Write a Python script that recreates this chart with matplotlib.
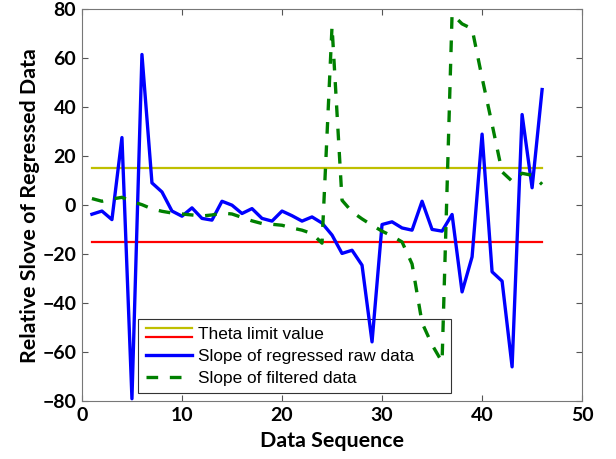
import matplotlib
matplotlib.use("Agg")
import matplotlib.pyplot as plt
from matplotlib.lines import Line2D
from matplotlib.legend_handler import HandlerTuple

# data
seq = list(range(1, 47))
raw_slope = [-3.7, -2.4, -5.9, 27.6, -79.0, 61.5, 9.1, 5.4, -2.4, -4.5,
             -1.1, -5.4, -6.1, 1.6, 0.0, -3.4, -1.4, -5.4, -6.5, -2.4,
             -4.3, -6.5, -4.8, -7.3, -12.2, -19.7, -18.4, -24.5, -55.8, -7.9,
             -6.8, -9.3, -10.2, 1.6, -9.9, -10.6, -3.8, -35.4, -21.1, 29.0,
             -27.2, -31.0, -66.0, 37.0, 7.1, 47.2]
filtered_slope = [2.7, 1.6, 2.5, 3.2, 1.5, 0.2, -1.5, -2.5, -3.2, -3.6,
                  -4.0, -4.4, -4.0, -3.2, -3.6, -5.0, -6.4, -7.5, -7.8, -8.2,
                  -9.3, -10.2, -11.6, -15.5, 73.0, 2.0, -2.7, -5.6, -8.2, -10.6,
                  -12.6, -15.0, -24.0, -48.0, -57.0, -64.0, 78.0, 74.0, 72.0, 52.0,
                  33.0, 13.6, 9.8, 13.0, 12.2, 8.5]
theta_limit = 15
labels = ["Theta limit value", "Slope of regressed raw data", "Slope of filtered data"]

fig = plt.figure(figsize=(6.16, 4.59), dpi=100)
ax = fig.add_axes([0.133, 0.126, 0.812, 0.854])

ax.plot([seq[0], seq[-1]], [theta_limit, theta_limit], color="#bfbf00", lw=1.6, label=labels[0], zorder=3)
ax.plot([seq[0], seq[-1]], [-theta_limit, -theta_limit], color="red", lw=1.6, zorder=3)
ax.plot(seq, raw_slope, color="blue", lw=2.4, label=labels[1], zorder=3)
ax.plot(seq, filtered_slope, color="#008000", lw=2.4, ls=(0, (3.5, 3.5)), label=labels[2], zorder=3)

# theta entry shows both limit lines stacked, like the original legend
h, l = ax.get_legend_handles_labels()
red = Line2D([], [], color="red", lw=1.6)
handles = [(h[0], red), h[1], h[2]]


class StackedHandler(HandlerTuple):
    def create_artists(self, legend, orig_handle, xdescent, ydescent, width, height, fontsize, trans):
        arts = []
        for i, hh in enumerate(orig_handle):
            off = (i - 0.5) * -0.5 * fontsize
            a = Line2D([-xdescent, -xdescent + width], [height / 2 - ydescent + off] * 2,
                       color=hh.get_color(), lw=hh.get_linewidth(), transform=trans)
            arts.append(a)
        return arts


leg = ax.legend(handles, l, loc="lower left", bbox_to_anchor=(0.112, 0.02, 0.626, 0.19),
                mode="expand", prop={"family": "Liberation Sans", "size": 12.4},
                handlelength=2.7, handletextpad=0.35, borderpad=0.45, labelspacing=0.4,
                borderaxespad=0, fancybox=False, edgecolor="#333333", framealpha=1,
                handler_map={tuple: StackedHandler()})
leg.get_frame().set_linewidth(0.8)
leg.set_zorder(2)  # data lines run over the legend box in the original

ax.set_xlim(0, 50)
ax.set_ylim(-80, 80)
ax.set_xticks(range(0, 51, 10))
ax.set_yticks(range(-80, 81, 20))
ax.tick_params(direction="in", top=True, right=True, length=4, color="#555555",
               labelsize=14, pad=4)
for t in ax.get_xticklabels() + ax.get_yticklabels():
    t.set_fontfamily("Lato")
    t.set_fontweight("bold")
for s in ax.spines.values():
    s.set_color("#777777")
    s.set_linewidth(0.8)

ax.set_xlabel("Data Sequence", fontsize=15.4, fontweight="bold", family="Lato", labelpad=5)
ax.set_ylabel("Relative Slove of Regressed Data", fontsize=15.4, fontweight="bold",
              family="Lato", labelpad=2)

fig.savefig("out.png", dpi=100)
